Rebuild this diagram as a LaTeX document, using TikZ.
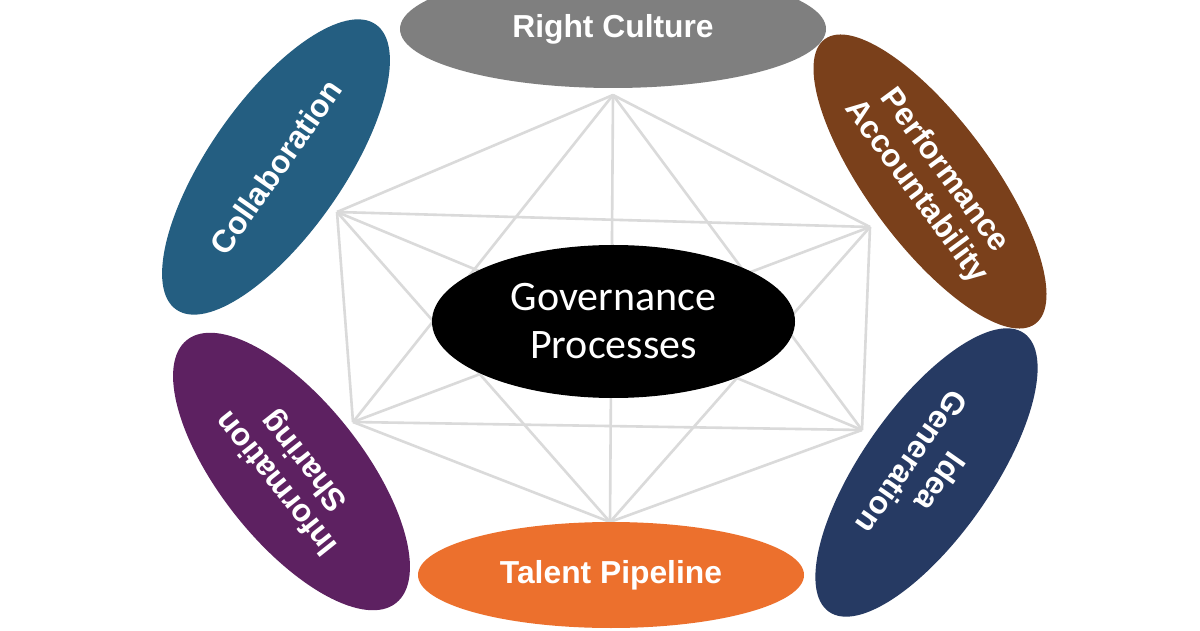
\documentclass[tikz,border=0pt]{standalone}
\usepackage{fontspec}
\setmainfont{Liberation Sans}
\newfontfamily\govfont{Carlito}
\usetikzlibrary{shapes.geometric}
\definecolor{cgray}{RGB}{127,127,127}
\definecolor{cblue}{RGB}{36,94,129}
\definecolor{cbrown}{RGB}{122,64,27}
\definecolor{cpurple}{RGB}{93,33,97}
\definecolor{cnavy}{RGB}{38,58,99}
\definecolor{corange}{RGB}{236,112,45}
\definecolor{cline}{RGB}{218,218,218}
\tikzset{
  petal/.style={ellipse, inner sep=0pt, text=white, align=center,
    font=\fontsize{31.8}{35}\selectfont\bfseries},
  link/.style={draw=cline, line width=2.6pt},
  core/.style={ellipse, fill=black, inner sep=0pt, text=white, align=center,
    font=\govfont\fontsize{42}{48}\selectfont}
}
\begin{document}
\begin{tikzpicture}[x=1pt,y=1pt]
\useasboundingbox (0,0) rectangle (1200,630);
\fill[white] (0,0) rectangle (1200,630);
% vertices of the network
\coordinate (T)  at (613,535);
\coordinate (UL) at (337,418);
\coordinate (UR) at (870,403);
\coordinate (LL) at (353,208);
\coordinate (LR) at (862,200);
\coordinate (B)  at (610,108);
% connectors (complete graph)
\foreach \a/\b in {T/UL,T/UR,T/LL,T/LR,T/B,UL/UR,UL/LL,UL/LR,UL/B,UR/LL,UR/LR,UR/B,LL/LR,LL/B,LR/B}
  \draw[link] (\a) -- (\b);
% outer ellipses
\node[petal, fill=cgray, minimum width=426pt, minimum height=118pt] (rc) at (613,601) {Right Culture};
\node[petal, fill=corange, minimum width=386pt, minimum height=106pt] (tp) at (611,55) {Talent Pipeline};
\node[petal, fill=cblue, minimum width=348pt, minimum height=134pt, rotate=55] (co) at (276,463) {Collaboration};
\node[petal, fill=cbrown, minimum width=354pt, minimum height=124pt, rotate=-53.5] (pa) at (930,448.5) {Performance\\Accountability};
\node[petal, fill=cpurple, minimum width=336pt, minimum height=142pt, rotate=128.5] (is) at (291.5,158.5) {Information\\Sharing};
\node[petal, fill=cnavy, minimum width=340pt, minimum height=130pt, rotate=-125] (ig) at (926.5,157.5) {Idea\\Generation};
% centre
\node[core, minimum width=363pt, minimum height=153pt] (gp) at (613.5,308.5) {Governance\\Processes};
\end{tikzpicture}
\end{document}
